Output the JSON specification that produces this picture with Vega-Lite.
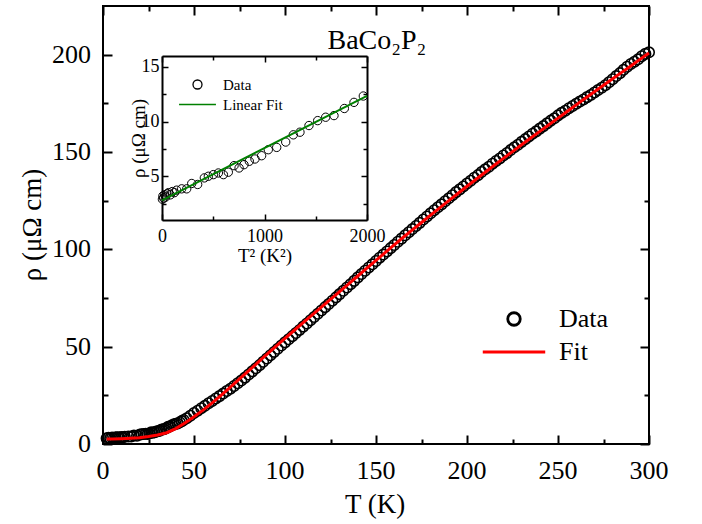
{
  "$schema": "https://vega.github.io/schema/vega-lite/v6.json",
  "width": 546,
  "height": 438,
  "autosize": {"type": "none"},
  "padding": {"left": 103, "top": 6, "right": 53, "bottom": 80},
  "config": {
    "font": "Liberation Serif",
    "view": {"stroke": "black", "strokeWidth": 2},
    "axis": {"grid": false, "labelColor": "black", "titleColor": "black", "tickColor": "black", "domainColor": "black", "labelFont": "Liberation Serif", "titleFont": "Liberation Serif", "titleFontWeight": "normal", "labelFlush": false, "labelOverlap": false, "labelBound": false, "format": "d"}
  },
  "datasets": {
    "main": [
      {"T":2,"rho":2.9},{"T":3,"rho":3.2},{"T":4,"rho":3.0},{"T":5,"rho":3.3},{"T":6,"rho":3.1},{"T":7,"rho":3.4},{"T":8,"rho":3.5},{"T":9,"rho":3.3},{"T":10,"rho":3.6},{"T":11,"rho":3.5},
      {"T":12,"rho":3.73},{"T":13.9,"rho":3.85},{"T":15.5,"rho":3.85},{"T":17,"rho":4.34},{"T":18.7,"rho":4.25},{"T":20.3,"rho":4.85},{"T":21.3,"rho":5.0},{"T":22.4,"rho":5.15},{"T":23.5,"rho":5.3},{"T":24.5,"rho":5.15},{"T":25.4,"rho":5.37},{"T":26.5,"rho":5.97},{"T":27.4,"rho":5.76},{"T":28.3,"rho":6.06},{"T":29.2,"rho":6.37},{"T":30.1,"rho":6.58},{"T":31.2,"rho":6.88},{"T":32.2,"rho":7.43},{"T":33.5,"rho":7.64},{"T":34.7,"rho":8.13},{"T":35.8,"rho":8.79},{"T":36.7,"rho":9.03},{"T":37.9,"rho":9.64},{"T":39,"rho":10.09},{"T":40,"rho":10.4},{"T":41,"rho":10.55},{"T":42.2,"rho":11.2},{"T":43.3,"rho":11.76},{"T":44.3,"rho":12.34},
      {"T":46,"rho":13.2},{"T":48,"rho":14.5},{"T":50,"rho":15.9},{"T":52,"rho":17.1},{"T":54,"rho":18.4},{"T":56,"rho":19.6},{"T":58,"rho":20.9},{"T":60,"rho":22.1},{"T":62,"rho":23.4},{"T":64,"rho":24.6},{"T":66,"rho":25.9},{"T":68,"rho":27.2},{"T":70,"rho":28.4},{"T":72,"rho":29.8},{"T":74,"rho":31.2},{"T":76,"rho":32.6},{"T":78,"rho":34.1},{"T":80,"rho":35.7},{"T":82,"rho":37.3},{"T":84,"rho":38.9},{"T":86,"rho":40.5},{"T":88,"rho":42.2},{"T":90,"rho":43.9},{"T":92,"rho":45.6},{"T":94,"rho":47.3},{"T":96,"rho":48.9},{"T":98,"rho":50.6},{"T":100,"rho":52.2},
      {"T":102,"rho":53.8},{"T":104,"rho":55.4},{"T":106,"rho":57.0},{"T":108,"rho":58.6},{"T":110,"rho":60.3},{"T":112,"rho":61.9},{"T":114,"rho":63.6},{"T":116,"rho":65.2},{"T":118,"rho":66.9},{"T":120,"rho":68.6},{"T":122,"rho":70.3},{"T":124,"rho":71.9},{"T":126,"rho":73.6},{"T":128,"rho":75.3},{"T":130,"rho":77.0},{"T":132,"rho":78.7},{"T":134,"rho":80.4},{"T":136,"rho":82.1},{"T":138,"rho":83.8},{"T":140,"rho":85.6},{"T":142,"rho":87.3},{"T":144,"rho":89.0},{"T":146,"rho":90.7},{"T":148,"rho":92.3},{"T":150,"rho":94.0},
      {"T":152,"rho":95.7},{"T":154,"rho":97.3},{"T":156,"rho":98.9},{"T":158,"rho":100.6},{"T":160,"rho":102.2},{"T":162,"rho":103.9},{"T":164,"rho":105.5},{"T":166,"rho":107.2},{"T":168,"rho":108.8},{"T":170,"rho":110.4},{"T":172,"rho":112.0},{"T":174,"rho":113.6},{"T":176,"rho":115.3},{"T":178,"rho":116.9},{"T":180,"rho":118.5},{"T":182,"rho":120.1},{"T":184,"rho":121.6},{"T":186,"rho":123.1},{"T":188,"rho":124.7},{"T":190,"rho":126.2},{"T":192,"rho":127.8},{"T":194,"rho":129.4},{"T":196,"rho":130.8},{"T":198,"rho":132.3},{"T":200,"rho":133.8},
      {"T":202,"rho":135.2},{"T":204,"rho":136.8},{"T":206,"rho":138.1},{"T":208,"rho":139.7},{"T":210,"rho":141.1},{"T":212,"rho":142.4},{"T":214,"rho":144.0},{"T":216,"rho":145.4},{"T":218,"rho":146.7},{"T":220,"rho":148.2},{"T":222,"rho":149.5},{"T":224,"rho":151.0},{"T":226,"rho":152.4},{"T":228,"rho":153.7},{"T":230,"rho":155.2},{"T":232,"rho":156.6},{"T":234,"rho":158.0},{"T":236,"rho":159.4},{"T":238,"rho":160.6},{"T":240,"rho":162.0},{"T":242,"rho":163.3},{"T":244,"rho":164.7},{"T":246,"rho":166.1},{"T":248,"rho":167.3},{"T":250,"rho":168.8},
      {"T":252,"rho":170.1},{"T":254,"rho":171.2},{"T":256,"rho":172.5},{"T":258,"rho":173.6},{"T":260,"rho":174.8},{"T":262,"rho":175.9},{"T":264,"rho":177.0},{"T":266,"rho":178.2},{"T":268,"rho":179.3},{"T":270,"rho":180.6},{"T":272,"rho":181.8},{"T":274,"rho":183.0},{"T":276,"rho":184.3},{"T":278,"rho":185.8},{"T":280,"rho":187.4},{"T":282,"rho":189.0},{"T":284,"rho":190.5},{"T":286,"rho":192.2},{"T":288,"rho":193.8},{"T":290,"rho":195.2},{"T":292,"rho":196.4},{"T":294,"rho":197.6},{"T":296,"rho":199.2},{"T":298,"rho":200.4},{"T":300,"rho":201.2}
    ],
    "fit": [
      {"T":2,"rho":2.6},{"T":5,"rho":2.6},{"T":10,"rho":2.7},{"T":15,"rho":2.9},{"T":20,"rho":3.2},{"T":25,"rho":3.8},{"T":30,"rho":4.6},{"T":35,"rho":5.8},{"T":40,"rho":7.9},{"T":45,"rho":10.8},{"T":50,"rho":14.0},{"T":55,"rho":17.4},{"T":60,"rho":21.1},{"T":65,"rho":25.1},{"T":70,"rho":29.2},{"T":75,"rho":33.4},{"T":80,"rho":37.6},{"T":85,"rho":41.8},{"T":90,"rho":46.0},{"T":95,"rho":50.2},{"T":100,"rho":54.3},{"T":105,"rho":58.3},{"T":110,"rho":62.3},{"T":115,"rho":66.3},{"T":120,"rho":70.3},{"T":125,"rho":74.3},{"T":130,"rho":78.3},{"T":135,"rho":82.3},{"T":140,"rho":86.3},{"T":145,"rho":90.3},{"T":150,"rho":94.3},{"T":155,"rho":98.3},{"T":160,"rho":102.3},{"T":165,"rho":106.2},{"T":170,"rho":110.0},{"T":175,"rho":113.8},{"T":180,"rho":117.6},{"T":185,"rho":121.3},{"T":190,"rho":125.0},{"T":195,"rho":128.7},{"T":200,"rho":132.4},{"T":205,"rho":136.0},{"T":210,"rho":139.6},{"T":215,"rho":143.2},{"T":220,"rho":146.7},{"T":225,"rho":150.2},{"T":230,"rho":153.7},{"T":235,"rho":157.2},{"T":240,"rho":160.6},{"T":245,"rho":164.0},{"T":250,"rho":167.4},{"T":255,"rho":170.8},{"T":260,"rho":174.2},{"T":265,"rho":177.6},{"T":270,"rho":180.9},{"T":275,"rho":184.3},{"T":280,"rho":187.6},{"T":285,"rho":190.9},{"T":290,"rho":194.2},{"T":295,"rho":197.6},{"T":300,"rho":200.9}
    ],
    "inset": [
      {"T2":4,"rho":2.9},{"T2":9,"rho":3.2},{"T2":16,"rho":3.0},{"T2":25,"rho":3.3},{"T2":36,"rho":3.1},{"T2":49,"rho":3.4},{"T2":64,"rho":3.5},{"T2":81,"rho":3.3},{"T2":100,"rho":3.6},{"T2":121,"rho":3.5},
      {"T2":143,"rho":3.73},{"T2":192,"rho":3.85},{"T2":241,"rho":3.85},{"T2":290,"rho":4.34},{"T2":348,"rho":4.25},{"T2":413,"rho":4.85},{"T2":452,"rho":5.0},{"T2":501,"rho":5.15},{"T2":550,"rho":5.3},{"T2":599,"rho":5.15},{"T2":647,"rho":5.37},{"T2":703,"rho":5.97},{"T2":752,"rho":5.76},{"T2":800,"rho":6.06},{"T2":852,"rho":6.37},{"T2":907,"rho":6.58},{"T2":972,"rho":6.88},{"T2":1037,"rho":7.43},{"T2":1119,"rho":7.64},{"T2":1207,"rho":8.13},{"T2":1281,"rho":8.79},{"T2":1346,"rho":9.03},{"T2":1434,"rho":9.64},{"T2":1519,"rho":10.09},{"T2":1597,"rho":10.4},{"T2":1678,"rho":10.55},{"T2":1779,"rho":11.2},{"T2":1873,"rho":11.76},{"T2":1964,"rho":12.34}
    ],
    "insetfit": [{"T2":0,"rho":2.8},{"T2":2000,"rho":12.36}],
    "xticks": [{"v":0},{"v":50},{"v":100},{"v":150},{"v":200},{"v":250},{"v":300}],
    "yticks": [{"v":0},{"v":50},{"v":100},{"v":150},{"v":200}]
  },
  "layer": [
    {
      "layer": [
        {
          "data": {"name": "inset"},
          "mark": {"type": "point", "filled": false, "size": 70, "strokeWidth": 1, "opacity": 1},
          "encoding": {
            "x": {"field": "T2", "type": "quantitative", "scale": {"domain": [0, 2000], "range": [59, 264], "nice": false, "zero": false},
              "axis": {"orient": "bottom", "offset": -224, "values": [0,1000,2000], "format": "d", "ticks": false, "tickSize": 0, "domain": true, "domainWidth": 2, "labelFont": "Liberation Serif", "labelFontSize": 18, "labelPadding": 7, "title": "T² (K²)", "titleFont": "Liberation Serif", "titleFontWeight": "normal", "titleFontSize": 19, "titleY": 35, "titleBaseline": "middle"}},
            "y": {"field": "rho", "type": "quantitative", "scale": {"domain": [1, 16], "range": [214, 50], "nice": false, "zero": false},
              "axis": {"orient": "left", "offset": -59, "values": [5,10,15], "format": "d", "ticks": false, "tickSize": 0, "domain": true, "domainWidth": 2, "labelFont": "Liberation Serif", "labelFontSize": 18, "labelPadding": 3, "title": "ρ (μΩ cm)", "titleFont": "Liberation Serif", "titleFontWeight": "normal", "titleFontSize": 19, "titleX": -24, "titleBaseline": "middle"}},
            "color": {"datum": "Data", "scale": {"domain": ["Data", "Linear Fit"], "range": ["black", "#008000"]},
              "legend": {"title": null, "orient": "none", "legendX": 87, "legendY": 71, "labelFontSize": 15, "labelFont": "Liberation Serif", "labelColor": "black", "symbolSize": 81, "symbolStrokeWidth": 1.3, "labelOffset": 18, "rowPadding": 4, "padding": 0, "encode": {"symbols": {"update": {"fill": {"value": "transparent"}}}}}},
            "shape": {"datum": "Data", "scale": {"domain": ["Data", "Linear Fit"], "range": ["circle", "M-4.1,0H4.1"]},
              "legend": {"title": null, "orient": "none", "legendX": 87, "legendY": 71, "labelFontSize": 15, "labelFont": "Liberation Serif", "labelColor": "black", "symbolSize": 81, "symbolStrokeWidth": 1.3, "labelOffset": 18, "rowPadding": 4, "padding": 0, "encode": {"symbols": {"update": {"fill": {"value": "transparent"}}}}}}
          }
        },
        {
          "data": {"name": "insetfit"},
          "mark": {"type": "line", "strokeWidth": 2},
          "encoding": {
            "x": {"field": "T2", "type": "quantitative", "scale": {"domain": [0, 2000], "range": [59, 264], "nice": false, "zero": false},
              "axis": {"orient": "bottom", "offset": -224, "values": [0,1000,2000], "labels": false, "domain": false, "tickSize": -6, "tickWidth": 1.5, "title": null}},
            "y": {"field": "rho", "type": "quantitative", "scale": {"domain": [1, 16], "range": [214, 50], "nice": false, "zero": false},
              "axis": {"orient": "left", "offset": -59, "values": [5,10,15], "labels": false, "domain": false, "tickSize": -6, "tickWidth": 1.5, "title": null}},
            "color": {"datum": "Linear Fit", "scale": {"domain": ["Data", "Linear Fit"], "range": ["black", "#008000"]}}
          }
        },
        {
          "data": {"values": [{}]},
          "mark": {"type": "text", "text": ""},
          "encoding": {
            "x": {"datum": 1000, "type": "quantitative", "scale": {"domain": [0, 2000], "range": [59, 264], "nice": false, "zero": false},
              "axis": {"orient": "bottom", "offset": -224, "values": [500,1500], "labels": false, "domain": false, "tickSize": -4, "tickWidth": 1.5, "title": null}},
            "y": {"datum": 5, "type": "quantitative", "scale": {"domain": [1, 16], "range": [214, 50], "nice": false, "zero": false},
              "axis": {"orient": "left", "offset": -59, "values": [2.5,7.5,12.5], "labels": false, "domain": false, "tickSize": -4, "tickWidth": 1.5, "title": null}}
          }
        },
        {
          "data": {"values": [{}]},
          "mark": {"type": "text", "text": ""},
          "encoding": {
            "x": {"datum": 1000, "type": "quantitative", "scale": {"domain": [0, 2000], "range": [59, 264], "nice": false, "zero": false},
              "axis": {"orient": "top", "offset": -50, "values": [0,1000,2000], "labels": false, "domain": true, "domainWidth": 2, "tickSize": -6, "tickWidth": 1.5, "title": null}},
            "y": {"datum": 5, "type": "quantitative", "scale": {"domain": [1, 16], "range": [214, 50], "nice": false, "zero": false},
              "axis": {"orient": "right", "offset": -282, "values": [5,10,15], "labels": false, "domain": true, "domainWidth": 2, "tickSize": -6, "tickWidth": 1.5, "title": null}}
          }
        },
        {
          "data": {"values": [{}]},
          "mark": {"type": "text", "text": ""},
          "encoding": {
            "x": {"datum": 1000, "type": "quantitative", "scale": {"domain": [0, 2000], "range": [59, 264], "nice": false, "zero": false},
              "axis": {"orient": "top", "offset": -50, "values": [500,1500], "labels": false, "domain": false, "tickSize": -4, "tickWidth": 1.5, "title": null}},
            "y": {"datum": 5, "type": "quantitative", "scale": {"domain": [1, 16], "range": [214, 50], "nice": false, "zero": false},
              "axis": {"orient": "right", "offset": -282, "values": [2.5,7.5,12.5], "labels": false, "domain": false, "tickSize": -4, "tickWidth": 1.5, "title": null}}
          }
        }
      ],
      "resolve": {"axis": {"x": "independent", "y": "independent"}}
    },
    {
      "layer": [
        {
          "data": {"name": "main"},
          "mark": {"type": "point", "filled": false, "size": 110, "strokeWidth": 1.6, "opacity": 1},
          "encoding": {
            "x": {"field": "T", "type": "quantitative", "scale": {"domain": [0, 300], "range": [0, 546], "nice": false, "zero": false},
              "axis": {"orient": "bottom", "values": [0,50,100,150,200,250,300], "labels": false, "domain": false, "tickSize": -9, "tickWidth": 2, "title": null}},
            "y": {"field": "rho", "type": "quantitative", "scale": {"domain": [0, 225], "range": [438, 0], "nice": false, "zero": false},
              "axis": {"orient": "left", "values": [0,50,100,150,200], "labels": false, "domain": false, "tickSize": -9, "tickWidth": 2, "title": null}},
            "color": {"datum": "Data", "scale": {"domain": ["Data", "Fit"], "range": ["black", "#ff0000"]},
              "legend": {"title": null, "orient": "none", "legendX": 398, "legendY": 300, "labelFontSize": 26, "labelFont": "Liberation Serif", "labelColor": "black", "symbolSize": 156, "symbolStrokeWidth": 2.8, "labelOffset": 32, "rowPadding": 7, "padding": 0, "encode": {"symbols": {"update": {"fill": {"value": "transparent"}}}}}},
            "shape": {"datum": "Data", "scale": {"domain": ["Data", "Fit"], "range": ["circle", "M-5,0H5"]},
              "legend": {"title": null, "orient": "none", "legendX": 398, "legendY": 300, "labelFontSize": 26, "labelFont": "Liberation Serif", "labelColor": "black", "symbolSize": 156, "symbolStrokeWidth": 2.8, "labelOffset": 32, "rowPadding": 7, "padding": 0, "encode": {"symbols": {"update": {"fill": {"value": "transparent"}}}}}}
          }
        },
        {
          "data": {"name": "fit"},
          "mark": {"type": "line", "strokeWidth": 3},
          "encoding": {
            "x": {"field": "T", "type": "quantitative", "scale": {"domain": [0, 300], "range": [0, 546], "nice": false, "zero": false},
              "axis": {"orient": "bottom", "values": [25,75,125,175,225,275], "labels": false, "domain": false, "tickSize": -5, "tickWidth": 2, "title": null}},
            "y": {"field": "rho", "type": "quantitative", "scale": {"domain": [0, 225], "range": [438, 0], "nice": false, "zero": false},
              "axis": {"orient": "left", "values": [25,75,125,175], "labels": false, "domain": false, "tickSize": -5, "tickWidth": 2, "title": null}},
            "color": {"datum": "Fit", "scale": {"domain": ["Data", "Fit"], "range": ["black", "#ff0000"]}}
          }
        },
        {
          "data": {"values": [{}]},
          "mark": {"type": "text", "text": "BaCo₂P₂", "font": "Liberation Serif", "fontSize": 28, "align": "center", "baseline": "middle", "color": "black"},
          "encoding": {
            "x": {"datum": 150.5, "type": "quantitative", "scale": {"domain": [0, 300], "range": [0, 546], "nice": false, "zero": false},
              "axis": {"orient": "top", "values": [0,50,100,150,200,250,300], "labels": false, "domain": false, "tickSize": -9, "tickWidth": 2, "title": null}},
            "y": {"datum": 207, "type": "quantitative", "scale": {"domain": [0, 225], "range": [438, 0], "nice": false, "zero": false},
              "axis": {"orient": "right", "values": [0,50,100,150,200], "labels": false, "domain": false, "tickSize": -9, "tickWidth": 2, "title": null}}
          }
        },
        {
          "data": {"values": [{}]},
          "mark": {"type": "text", "text": ""},
          "encoding": {
            "x": {"datum": 0, "type": "quantitative", "scale": {"domain": [0, 300], "range": [0, 546], "nice": false, "zero": false},
              "axis": {"orient": "top", "values": [25,75,125,175,225,275], "labels": false, "domain": false, "tickSize": -5, "tickWidth": 2, "title": null}},
            "y": {"datum": 0, "type": "quantitative", "scale": {"domain": [0, 225], "range": [438, 0], "nice": false, "zero": false},
              "axis": {"orient": "right", "values": [25,75,125,175], "labels": false, "domain": false, "tickSize": -5, "tickWidth": 2, "title": null}}
          }
        },
        {
          "data": {"name": "xticks"},
          "mark": {"type": "text", "font": "Liberation Serif", "fontSize": 26, "align": "center", "baseline": "middle", "color": "black"},
          "encoding": {
            "x": {"field": "v", "type": "quantitative", "scale": {"domain": [0, 300], "range": [0, 546], "nice": false, "zero": false}, "axis": null},
            "y": {"datum": -13.9, "type": "quantitative", "scale": {"domain": [0, 225], "range": [438, 0], "nice": false, "zero": false}, "axis": null},
            "text": {"field": "v", "type": "quantitative", "format": "d"}
          }
        },
        {
          "data": {"name": "yticks"},
          "mark": {"type": "text", "font": "Liberation Serif", "fontSize": 26, "align": "right", "baseline": "middle", "color": "black"},
          "encoding": {
            "x": {"datum": -6.6, "type": "quantitative", "scale": {"domain": [0, 300], "range": [0, 546], "nice": false, "zero": false}, "axis": null},
            "y": {"field": "v", "type": "quantitative", "scale": {"domain": [0, 225], "range": [438, 0], "nice": false, "zero": false}, "axis": null},
            "text": {"field": "v", "type": "quantitative", "format": "d"}
          }
        },
        {
          "data": {"values": [{}]},
          "mark": {"type": "text", "text": "T (K)", "font": "Liberation Serif", "fontSize": 27, "align": "center", "baseline": "middle", "color": "black"},
          "encoding": {
            "x": {"datum": 149.5, "type": "quantitative", "scale": {"domain": [0, 300], "range": [0, 546], "nice": false, "zero": false}, "axis": null},
            "y": {"datum": -31.3, "type": "quantitative", "scale": {"domain": [0, 225], "range": [438, 0], "nice": false, "zero": false}, "axis": null}
          }
        },
        {
          "data": {"values": [{}]},
          "mark": {"type": "text", "text": "ρ (μΩ cm)", "font": "Liberation Serif", "fontSize": 27, "align": "center", "baseline": "middle", "angle": 270, "color": "black"},
          "encoding": {
            "x": {"datum": -38.5, "type": "quantitative", "scale": {"domain": [0, 300], "range": [0, 546], "nice": false, "zero": false}, "axis": null},
            "y": {"datum": 112.5, "type": "quantitative", "scale": {"domain": [0, 225], "range": [438, 0], "nice": false, "zero": false}, "axis": null}
          }
        }
      ],
      "resolve": {"axis": {"x": "independent", "y": "independent"}}
    }
  ],
  "resolve": {
    "scale": {"x": "independent", "y": "independent", "color": "independent", "shape": "independent"},
    "axis": {"x": "independent", "y": "independent"},
    "legend": {"color": "independent", "shape": "independent"}
  }
}
